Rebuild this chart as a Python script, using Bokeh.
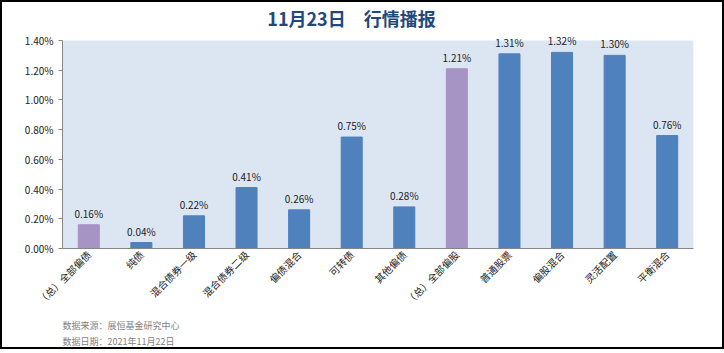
from bokeh.plotting import figure
from bokeh.models import (ColumnDataSource, PrintfTickFormatter, LabelSet, Label, Range1d,
                          BoxAnnotation, Title)
from bokeh.core.properties import value
from bokeh.embed import file_html
from bokeh.resources import INLINE
from math import pi

categories = ["（总）全部偏债", "纯债", "混合债券一级", "混合债券二级", "偏债混合", "可转债",
              "其他偏债", "（总）全部偏股", "普通股票", "偏股混合", "灵活配置", "平衡混合"]
values = [0.16, 0.04, 0.22, 0.41, 0.26, 0.75, 0.28, 1.21, 1.31, 1.32, 1.30, 0.76]
is_total = [True, False, False, False, False, False, False, True, False, False, False, False]
y_ticks = [0.0, 0.2, 0.4, 0.6, 0.8, 1.0, 1.2, 1.4]
y_max = 1.4

colors = ["#A694C4" if t else "#4F81BD" for t in is_total]
labels = ["%.2f%%" % v for v in values]
src = ColumnDataSource(dict(cat=categories, val=values, color=colors, lab=labels))

CJK = "Noto Sans CJK SC"

# plot area 208 px tall for 0..1.4; frame extended 38 px above to leave room for title/labels
px_per_unit = 208 / y_max
p = figure(x_range=categories, y_range=Range1d(0, y_max + 38 / px_per_unit),
           output_backend="svg", toolbar_location=None,
           min_border_left=60, min_border_right=29, min_border_top=0, min_border_bottom=0)
p.frame_width = 631
p.frame_height = 246
p.background_fill_color = "white"
p.border_fill_color = "white"
p.outline_line_color = None
p.styles = {"border": "2px solid black"}

p.add_layout(BoxAnnotation(bottom=0, top=y_max, fill_color="#DCE6F2", fill_alpha=1.0,
                           line_color=None, level="underlay"))

p.vbar(x="cat", top="val", width=0.4, color="color", source=src)

p.add_layout(LabelSet(x="cat", y="val", text="lab", source=src, y_offset=4,
                      text_align="center", text_baseline="bottom",
                      text_font=value(CJK), text_font_size=value("10px"), text_color=value("#222222")))

p.add_layout(Label(x=289, y=246 - 15, x_units="screen", y_units="screen",
                   text="11月23日\u3000行情播报", text_align="center", text_baseline="middle",
                   text_font=CJK, text_font_size="18px", text_font_style="bold",
                   text_color="#1F497D"))

p.xgrid.grid_line_color = None
p.ygrid.grid_line_color = None

p.yaxis.ticker = y_ticks
p.yaxis.bounds = (0, y_max)
p.yaxis.formatter = PrintfTickFormatter(format="%.2f%%")
p.yaxis.axis_line_color = "#868686"
p.yaxis.major_tick_line_color = "#868686"
p.yaxis.major_tick_out = 4
p.yaxis.major_tick_in = 0
p.yaxis.minor_tick_line_color = None
p.yaxis.major_label_text_font = CJK
p.yaxis.major_label_text_font_size = "10px"
p.yaxis.major_label_text_color = "#222222"

p.xaxis.axis_line_color = "#868686"
p.xaxis.major_tick_line_color = None
p.xaxis.major_tick_out = 0
p.xaxis.major_label_standoff = 4
p.xaxis.major_label_orientation = pi / 4
p.xaxis.major_label_text_font = CJK
p.xaxis.major_label_text_font_size = "10px"
p.xaxis.major_label_text_color = "#222222"

t1 = Title(text="数据来源：展恒基金研究中心", align="left", standoff=2,
           text_font=CJK, text_font_size="9px", text_color="#7F7F7F", text_font_style="normal")
t2 = Title(text="数据日期：2021年11月22日", align="left", standoff=0,
           text_font=CJK, text_font_size="9px", text_color="#7F7F7F", text_font_style="normal")
p.add_layout(t1, "below")
p.add_layout(t2, "below")

open("out.html", "w").write(file_html(p, INLINE))
